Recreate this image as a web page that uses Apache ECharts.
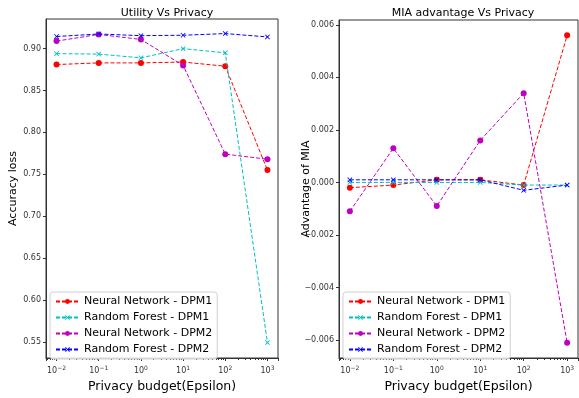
<!DOCTYPE html>
<html>
<head>
<meta charset="utf-8">
<script src="https://cdn.jsdelivr.net/npm/echarts@6/dist/echarts.min.js"></script>
<style>
html, body { margin: 0; padding: 0; background: #fff; }
#chart { width: 579px; height: 398px; }
</style>
</head>
<body>
<div id="chart"></div>
<script>
// privacy budget (epsilon)
var epsilons = [0.01, 0.1, 1, 10, 100, 1000];
var seriesNames = ['Neural Network - DPM1', 'Random Forest - DPM1', 'Neural Network - DPM2', 'Random Forest - DPM2'];

// left: accuracy
var accNN1 = [0.881, 0.883, 0.883, 0.884, 0.879, 0.755];
var accRF1 = [0.894, 0.8935, 0.889, 0.900, 0.895, 0.549];
var accNN2 = [0.909, 0.917, 0.911, 0.880, 0.774, 0.768];
var accRF2 = [0.9145, 0.9175, 0.9155, 0.916, 0.918, 0.914];

// right: MIA advantage
var miaNN1 = [-0.0002, -0.0001, 0.0001, 0.0001, -0.0001, 0.0056];
var miaRF1 = [0.0, 0.0, 0.0, 0.0, -0.0001, -0.0001];
var miaNN2 = [-0.0011, 0.0013, -0.0009, 0.0016, 0.0034, -0.0061];
var miaRF2 = [0.0001, 0.0001, 0.0001, 0.0001, -0.0003, -0.0001];

var colors = ['#ff0000', '#00bfbf', '#bf00bf', '#0000ff'];
var xMark = 'path://M0,1.2 L1.2,0 L5,3.8 L8.8,0 L10,1.2 L6.2,5 L10,8.8 L8.8,10 L5,6.2 L1.2,10 L0,8.8 L3.8,5 Z';
var symbols = ['circle', xMark, 'circle', xMark];
var symSizes = [6, 5, 6, 5];

var font = 'DejaVu Sans';

function pairs(ys) {
    return epsilons.map(function (x, i) { return [x, ys[i]]; });
}

function supLabel(v) {
    var e = Math.round(Math.log10(v));
    var s = e < 0 ? '\u2212' + (-e) : '' + e;
    return '10{sup|' + s + '}';
}

function xAxis(idx) {
    return {
        type: 'log', logBase: 10, gridIndex: idx,
        min: Math.pow(10, -2.25), max: Math.pow(10, 3.25),
        name: 'Privacy budget(Epsilon)', nameLocation: 'middle', nameGap: 22,
        nameTextStyle: { fontFamily: font, fontSize: 12.5, color: '#000' },
        axisLine: { show: true, onZero: false, lineStyle: { color: '#333', width: 1 } },
        axisTick: { show: true, length: 3, lineStyle: { color: '#333' } },
        minorTick: { show: true, splitNumber: 9, length: 2, lineStyle: { color: '#333' } },
        splitLine: { show: false },
        axisLabel: {
            showMinLabel: false, showMaxLabel: false, margin: 7,
            fontFamily: font, fontSize: 8, color: '#333',
            formatter: supLabel,
            rich: { sup: { fontSize: 6, fontFamily: font, color: '#333', padding: [0, 0, 6, 0] } }
        }
    };
}

function yAxis(idx, name, min, max, step, fmt) {
    return {
        type: 'value', gridIndex: idx, min: min, max: max,
        minInterval: step, maxInterval: step, splitNumber: 8,
        name: name, nameLocation: 'middle', nameRotate: 90, nameGap: 27,
        nameMoveOverlap: false,
        nameTextStyle: { fontFamily: font, fontSize: 11, color: '#000' },
        axisLine: { show: true, onZero: false, lineStyle: { color: '#333', width: 1 } },
        axisTick: { show: true, length: 3, lineStyle: { color: '#333' } },
        splitLine: { show: false },
        axisLabel: {
            showMinLabel: false, showMaxLabel: false, margin: 5,
            fontFamily: font, fontSize: 8, color: '#333', formatter: fmt
        }
    };
}

function makeSeries(name, i, data, gi) {
    return {
        type: 'line', name: name, xAxisIndex: gi, yAxisIndex: gi,
        data: pairs(data),
        symbol: symbols[i], symbolSize: symSizes[i],
        lineStyle: { color: colors[i], width: 1, type: [4, 2] },
        itemStyle: { color: colors[i] },
        z: 2 + i, animation: false
    };
}

function legend(left) {
    return {
        left: left, top: 292, orient: 'vertical',
        data: seriesNames,
        itemWidth: 23, itemHeight: 6, itemGap: 3,
        backgroundColor: 'rgba(255,255,255,0.8)',
        borderColor: '#d0d0d0', borderWidth: 1, borderRadius: 3,
        padding: [3, 5, 3, 5],
        textStyle: { fontFamily: font, fontSize: 11, color: '#000', lineHeight: 13 },
        selectedMode: false
    };
}

var accFmt = function (v) { return v.toFixed(2); };
var miaFmt = function (v) {
    var s = Math.abs(v).toFixed(3);
    return v < -1e-9 ? '\u2212' + s : s;
};

var chart = echarts.init(document.getElementById('chart'));
chart.setOption({
    animation: false,
    title: [
        { text: 'Utility Vs Privacy', left: 162, top: 3, textAlign: 'center',
          textStyle: { fontFamily: font, fontSize: 11, fontWeight: 'normal', color: '#000' } },
        { text: 'MIA advantage Vs Privacy', left: 458, top: 3, textAlign: 'center',
          textStyle: { fontFamily: font, fontSize: 11, fontWeight: 'normal', color: '#000' } }
    ],
    grid: [
        { left: 46, right: 301, top: 19, bottom: 35, show: true, borderColor: '#333', borderWidth: 1 },
        { left: 339, right: 1, top: 20, bottom: 35, show: true, borderColor: '#333', borderWidth: 1 }
    ],
    legend: [legend(50), legend(343)],
    xAxis: [xAxis(0), xAxis(1)],
    yAxis: [
        yAxis(0, 'Accuracy loss', 0.5306, 0.9354, 0.05, accFmt),
        yAxis(1, 'Advantage of MIA', -0.006685, 0.006185, 0.002, miaFmt)
    ],
    series: [
        makeSeries(seriesNames[0], 0, accNN1, 0),
        makeSeries(seriesNames[1], 1, accRF1, 0),
        makeSeries(seriesNames[2], 2, accNN2, 0),
        makeSeries(seriesNames[3], 3, accRF2, 0),
        makeSeries(seriesNames[0], 0, miaNN1, 1),
        makeSeries(seriesNames[1], 1, miaRF1, 1),
        makeSeries(seriesNames[2], 2, miaNN2, 1),
        makeSeries(seriesNames[3], 3, miaRF2, 1)
    ]
});
</script>
</body>
</html>
